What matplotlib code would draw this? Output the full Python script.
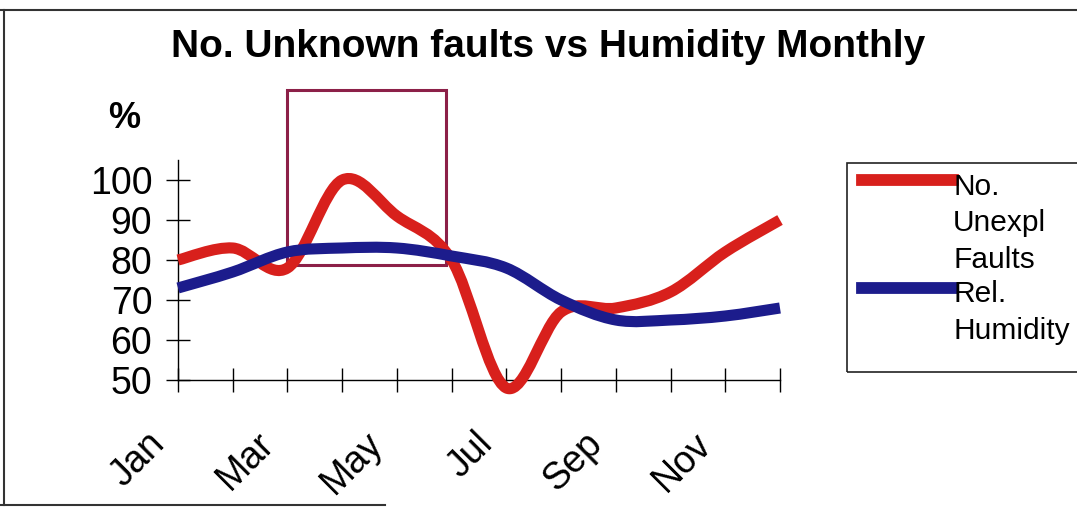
import numpy as np
import matplotlib
matplotlib.use("Agg")
import matplotlib.pyplot as plt
import matplotlib.transforms as mtransforms
from matplotlib.path import Path
from matplotlib.patches import PathPatch, Rectangle
from matplotlib.lines import Line2D

# Data
months = ['Jan', 'Feb', 'Mar', 'Apr', 'May', 'Jun',
          'Jul', 'Aug', 'Sep', 'Oct', 'Nov', 'Dec']
faults = [80, 83, 78, 100, 91, 80, 48, 67, 68, 72, 82, 90]
humidity = [73, 77, 82, 83, 83, 81, 78, 70, 65, 65, 66, 68]
series_names = ['No. Unexpl Faults', 'Rel. Humidity']
series_colors = ['#d8201c', '#1c1c8c']
title = 'No. Unknown faults vs Humidity Monthly'

plt.rcParams['font.family'] = ['Liberation Sans', 'DejaVu Sans']

W, H = 1077, 508
fig = plt.figure(figsize=(W / 100, H / 100), dpi=100)


def fx(px):
    return px / W


def fy(py):
    return 1 - py / H


ax = fig.add_axes([fx(178), fy(380), fx(780) - fx(178), fy(160) - fy(380)])


# Excel-like smoothed line as a bezier path through the points
def smooth_path(xs, ys):
    pts = np.column_stack([xs, ys]).astype(float)
    n = len(pts)
    verts = [pts[0]]
    codes = [Path.MOVETO]
    for i in range(n - 1):
        p0 = pts[max(i - 1, 0)]
        p1 = pts[i]
        p2 = pts[i + 1]
        p3 = pts[min(i + 2, n - 1)]
        c1 = p1 + (p2 - p0) / 6.0
        c2 = p2 - (p3 - p1) / 6.0
        verts += [c1, c2, p2]
        codes += [Path.CURVE4] * 3
    return Path(verts, codes)


x = np.arange(len(months))
for vals, color, z in zip([faults, humidity], series_colors, [3, 4]):
    patch = PathPatch(smooth_path(x, vals), facecolor='none', edgecolor=color,
                      lw=8, joinstyle='round', capstyle='butt', clip_on=False, zorder=z)
    ax.add_patch(patch)

ax.set_xlim(0, len(months) - 1)
ax.set_ylim(50, 105)

ax.set_yticks([50, 60, 70, 80, 90, 100])
ax.tick_params(axis='y', labelsize=27, direction='inout', length=17, width=1, pad=10)
ax.tick_params(axis='x', direction='inout', length=17, width=1, pad=22)

ax.set_xticks(x)
ax.set_xticklabels([m if i % 2 == 0 else '' for i, m in enumerate(months)],
                   rotation=45, ha='right', rotation_mode='anchor', fontsize=27)
# nudge month labels left/down like the original
shift = mtransforms.ScaledTranslation(-23 / 72, -2.5 / 72, fig.dpi_scale_trans)
for lbl in ax.get_xticklabels():
    lbl.set_transform(lbl.get_transform() + shift)

for s in ['top', 'right']:
    ax.spines[s].set_visible(False)
ax.spines['left'].set_linewidth(1)
ax.spines['bottom'].set_linewidth(1)
ax.patch.set_alpha(0)

# highlight box around the spring peak
ax.add_patch(Rectangle((2.0, 78.75), 2.9, 43.75, fill=False, edgecolor='#8c2048',
                       lw=2.2, clip_on=False, zorder=2))

fig.text(fx(548), fy(47), title, ha='center', va='center', fontsize=28, fontweight='bold')
fig.text(fx(124), fy(119), '%', ha='center', va='center', fontsize=26, fontweight='bold')

# legend drawn by hand to match the wrapped entries
fig.add_artist(Rectangle((fx(847), fy(372)), fx(1085) - fx(847), fy(163) - fy(372),
                         transform=fig.transFigure, fill=False, edgecolor='#222222', lw=1.2))
for name, color, ly in zip(series_names, series_colors, [180, 288]):
    fig.add_artist(Line2D([fx(862), fx(953)], [fy(ly), fy(ly)], color=color, lw=8.5,
                          transform=fig.transFigure))
    fig.text(fx(953), fy(ly - 7.5), name.replace(' ', '\n'), ha='left', va='top',
             fontsize=21.5, linespacing=1.4)

# outer chart border (partly missing in the scan)
fig.add_artist(Line2D([0, 1], [fy(10), fy(10)], color='#333333', lw=1.5, transform=fig.transFigure))
fig.add_artist(Line2D([fx(4), fx(4)], [fy(10), fy(505)], color='#333333', lw=1.5, transform=fig.transFigure))
fig.add_artist(Line2D([0, fx(385)], [fy(505), fy(505)], color='#333333', lw=1.5, transform=fig.transFigure))

fig.savefig('out.png', dpi=100)
